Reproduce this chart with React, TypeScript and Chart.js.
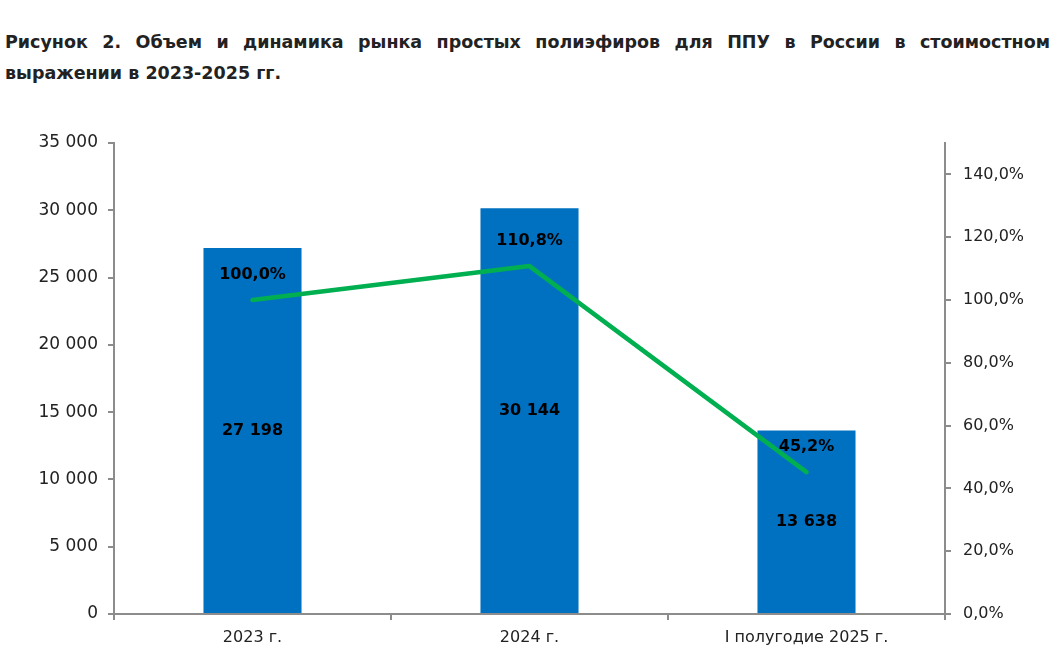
import React, { useEffect, useRef } from "react";
import { Chart, registerables } from "chart.js";

Chart.register(...registerables);

const categories = ["2023 г.", "2024 г.", "I полугодие 2025 г."];
const volumes = [27198, 30144, 13638];
const dynamics = [100.0, 110.8, 45.2];
const titleLine1 = "Рисунок 2. Объем и динамика рынка простых полиэфиров для ППУ в России в стоимостном";
const titleLine2 = "выражении в 2023-2025 гг.";

const FONT = "'DejaVu Sans', sans-serif";
const AXIS = "#8c8c8c";

const fmtNum = (n: number) => Math.round(n).toString().replace(/\B(?=(\d{3})+(?!\d))/g, " ");
const fmtPct = (v: number) => v.toFixed(1).replace(".", ",") + "%";

const labelPlugin = {
  id: "valueLabels",
  afterDatasetsDraw(chart: any) {
    const ctx = chart.ctx;
    ctx.save();
    ctx.fillStyle = "#000";
    ctx.font = `bold 16px ${FONT}`;
    ctx.textAlign = "center";
    ctx.textBaseline = "middle";
    const barMeta = chart.getDatasetMeta(0);
    barMeta.data.forEach((el: any, i: number) => {
      const y = (el.y + el.base) / 2;
      ctx.fillText(fmtNum(volumes[i]), el.x, y);
    });
    const lineMeta = chart.getDatasetMeta(1);
    lineMeta.data.forEach((el: any, i: number) => {
      ctx.fillText(fmtPct(dynamics[i]), el.x, el.y - 25);
    });
    ctx.restore();
  },
};

export default function App() {
  const ref = useRef<HTMLCanvasElement | null>(null);
  useEffect(() => {
    if (!ref.current) return;
    const chart = new Chart(ref.current, {
      type: "bar",
      data: {
        labels: categories,
        datasets: [
          {
            type: "bar",
            data: volumes,
            backgroundColor: "#0070C0",
            yAxisID: "y",
            barPercentage: 0.354,
            categoryPercentage: 1,
            order: 1,
          },
          {
            type: "line",
            data: dynamics,
            borderColor: "#00B050",
            borderWidth: 4.5,
            pointRadius: 0,
            borderCapStyle: "round",
            borderJoinStyle: "round",
            yAxisID: "y1",
            order: 0,
          } as any,
        ],
      },
      options: {
        responsive: false,
        animation: false,
        layout: { padding: { top: 143, left: 0, right: 0, bottom: 0 } },
        plugins: { legend: { display: false }, tooltip: { enabled: false } },
        scales: {
          x: {
            offset: true,
            grid: { offset: true, drawOnChartArea: false, color: AXIS, lineWidth: 2, tickLength: 6 },
            border: { color: AXIS, width: 2 },
            ticks: { color: "#222", font: { family: FONT, size: 16 }, padding: 8 },
            afterFit: (s: any) => { s.height = 50; },
          },
          y: {
            position: "left",
            min: 0,
            max: 35000,
            ticks: { stepSize: 5000, color: "#222", font: { family: FONT, size: 17 }, padding: 10, callback: (v: any) => fmtNum(Number(v)) },
            grid: { drawOnChartArea: false, color: AXIS, lineWidth: 2, tickLength: 6 },
            border: { color: AXIS, width: 2 },
            afterFit: (s: any) => { s.width = 114; },
          },
          y1: {
            position: "right",
            min: 0,
            max: 150,
            ticks: { stepSize: 20, color: "#222", font: { family: FONT, size: 16 }, padding: 12, callback: (v: any) => fmtPct(Number(v)) },
            afterBuildTicks: (s: any) => { s.ticks = s.ticks.filter((t: any) => t.value <= 140); },
            grid: { drawOnChartArea: false, color: AXIS, lineWidth: 2, tickLength: 6 },
            border: { color: AXIS, width: 2 },
            afterFit: (s: any) => { s.width = 115; },
          },
        },
      },
      plugins: [labelPlugin],
    });
    return () => chart.destroy();
  }, []);

  return (
    <div style={{ position: "fixed", left: 0, top: 0, width: 1060, height: 664, background: "#fff" }}>
      <div
        style={{
          position: "absolute",
          left: 5,
          top: 27,
          width: 1045,
          fontFamily: FONT,
          fontWeight: "bold",
          fontSize: 17.5,
          lineHeight: "31px",
          color: "#222",
        }}
      >
        <div style={{ textAlign: "justify", textAlignLast: "justify" }}>{titleLine1}</div>
        <div>{titleLine2}</div>
      </div>
      <canvas ref={ref} width={1060} height={664} style={{ position: "absolute", left: 0, top: 0 }} />
    </div>
  );
}
